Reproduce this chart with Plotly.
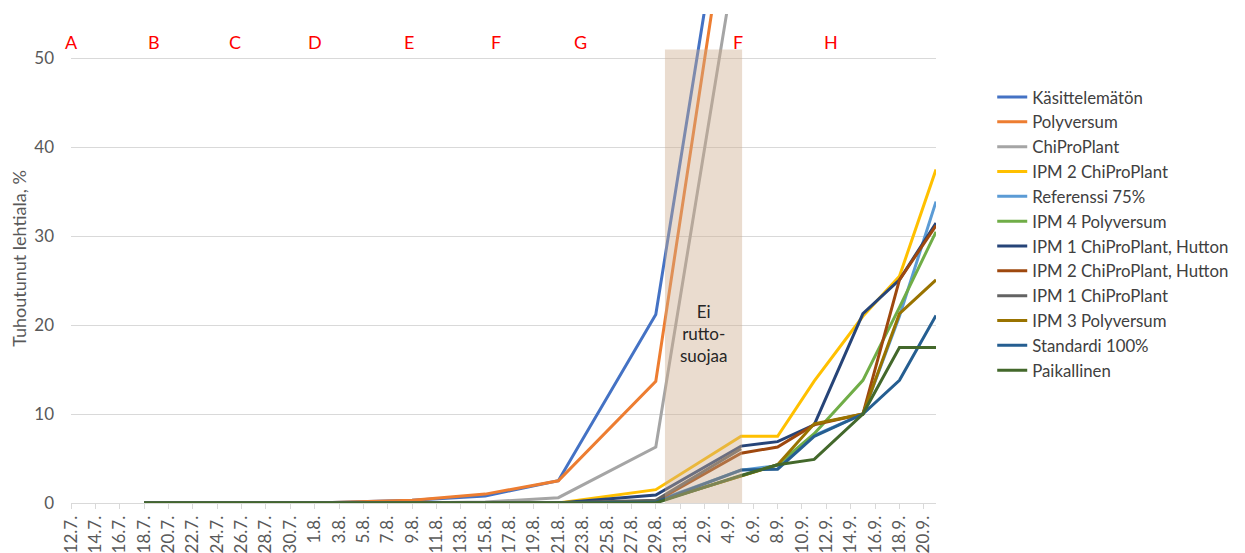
import plotly.graph_objects as go
import pandas as pd

# ---- data ----
dates = ["2021-07-18", "2021-08-01", "2021-08-09", "2021-08-15", "2021-08-21",
         "2021-08-29", "2021-09-05", "2021-09-08", "2021-09-11", "2021-09-15",
         "2021-09-18", "2021-09-21"]

kasittelematon = [0, 0, 0.3, 0.8, 2.5, 21.2, 81, None, None, None, None, None]
polyversum = [0, 0, 0.3, 1.0, 2.5, 13.7, 77, None, None, None, None, None]
chiproplant = [0, 0, 0, 0.1, 0.6, 6.3, 65, None, None, None, None, None]
ipm2_chipro = [0, 0, 0, 0, 0, 1.5, 7.5, 7.5, 13.7, 21.0, 25.5, 37.5]
referenssi = [0, 0, 0, 0, 0, 0.2, 3.7, 4.2, 7.6, 10.0, 21.0, 33.9]
ipm4_poly = [0, 0, 0, 0, 0, 0.1, 3.1, 4.3, 7.8, 13.8, 22.0, 30.5]
ipm1_chipro_hutton = [0, 0, 0, 0, 0, 0.9, 6.4, 6.9, 8.8, 21.3, 25.1, 31.5]
ipm2_chipro_hutton = [0, 0, 0, 0, 0, 0.2, 5.6, 6.3, 8.8, 10.0, 25.1, 31.2]
ipm1_chipro = [0, 0, 0, 0, 0, 0.3, 6.1, None, None, None, None, None]
ipm3_poly = [0, 0, 0, 0, 0, 0.1, 3.1, 4.3, 8.9, 10.0, 21.3, 25.1]
standardi = [0, 0, 0, 0, 0, 0.1, 3.7, 3.8, 7.5, 10.0, 13.8, 21.1]
paikallinen = [0, 0, 0, 0, 0, 0.0, 3.1, 4.3, 4.9, 10.0, 17.5, 17.5]

series_names = ["Käsittelemätön", "Polyversum", "ChiProPlant", "IPM 2 ChiProPlant",
                "Referenssi 75%", "IPM 4 Polyversum", "IPM 1 ChiProPlant, Hutton",
                "IPM 2 ChiProPlant, Hutton", "IPM 1 ChiProPlant", "IPM 3 Polyversum",
                "Standardi 100%", "Paikallinen"]
series_values = [kasittelematon, polyversum, chiproplant, ipm2_chipro, referenssi,
                 ipm4_poly, ipm1_chipro_hutton, ipm2_chipro_hutton, ipm1_chipro,
                 ipm3_poly, standardi, paikallinen]
series_colors = ["#4472C4", "#ED7D31", "#A5A5A5", "#FFC000", "#5B9BD5", "#70AD47",
                 "#264478", "#9E480E", "#636363", "#997300", "#255E91", "#43682B"]

tick_labels = ["12.7.", "14.7.", "16.7.", "18.7.", "20.7.", "22.7.", "24.7.", "26.7.",
               "28.7.", "30.7.", "1.8.", "3.8.", "5.8.", "7.8.", "9.8.", "11.8.",
               "13.8.", "15.8.", "17.8.", "19.8.", "21.8.", "23.8.", "25.8.", "27.8.",
               "29.8.", "31.8.", "2.9.", "4.9.", "6.9.", "8.9.", "10.9.", "12.9.",
               "14.9.", "16.9.", "18.9.", "20.9."]
tick_dates = pd.date_range("2021-07-12", periods=len(tick_labels), freq="2D")

# spray letters
letter_texts = ["A", "B", "C", "D", "E", "F", "G", "F", "H"]
letter_dates = ["2021-07-12", "2021-07-18 20:00", "2021-07-25 12:00", "2021-08-01",
                "2021-08-08 18:00", "2021-08-15 22:00", "2021-08-22 20:00",
                "2021-09-04 18:00", "2021-09-12 10:00"]

FONT = "Lato, 'Open Sans', sans-serif"

fig = go.Figure()
for name, vals, col in zip(series_names, series_values, series_colors):
    fig.add_trace(go.Scatter(x=pd.to_datetime(dates), y=vals, name=name, mode="lines",
                             line=dict(color=col, width=3)))

# shaded "no protection" period
fig.add_shape(type="rect", xref="x", yref="y",
              x0="2021-08-29 18:00", x1="2021-09-05 02:00", y0=0, y1=51,
              fillcolor="rgba(205,172,140,0.42)", line=dict(width=0), layer="above")
fig.add_annotation(x="2021-09-01 22:00", y=19.1, xref="x", yref="y",
                   text="Ei<br>rutto-<br>suojaa", showarrow=False,
                   font=dict(family=FONT, size=17, color="#262626"))

for t, d in zip(letter_texts, letter_dates):
    fig.add_annotation(x=d, y=51.9, xref="x", yref="y", text=t, showarrow=False,
                       font=dict(family=FONT, size=18, color="#FF0000"))

fig.update_layout(
    width=1237, height=545,
    margin=dict(l=63, r=309, t=6, b=50, autoexpand=False),
    paper_bgcolor="white", plot_bgcolor="white",
    font=dict(family=FONT, size=17, color="#595959"),
    showlegend=True,
    legend=dict(x=1.065, y=0.866, xanchor="left", yanchor="top",
                font=dict(family=FONT, size=16.8, color="#404040"),
                bgcolor="rgba(0,0,0,0)"),
    xaxis=dict(type="date", range=["2021-07-12", "2021-09-21"],
               tickvals=tick_dates, ticktext=tick_labels, tickangle=-90,
               showgrid=False, showline=True, linecolor="#D9D9D9", linewidth=1,
               ticks="outside", ticklen=5, tickcolor="#D9D9D9",
               tickfont=dict(family=FONT, size=17, color="#595959"),
               automargin=False),
    yaxis=dict(range=[0, 55], tickvals=[0, 10, 20, 30, 40, 50], showgrid=True,
               gridcolor="#D9D9D9", gridwidth=1, zeroline=False, showline=False,
               ticks="", ticklabelstandoff=16,
               tickfont=dict(family=FONT, size=17, color="#595959"),
               title=dict(text="Tuhoutunut lehtiala, %", standoff=4,
                          font=dict(family=FONT, size=18, color="#595959")),
               automargin=False),
)

fig.write_html("out.html")
